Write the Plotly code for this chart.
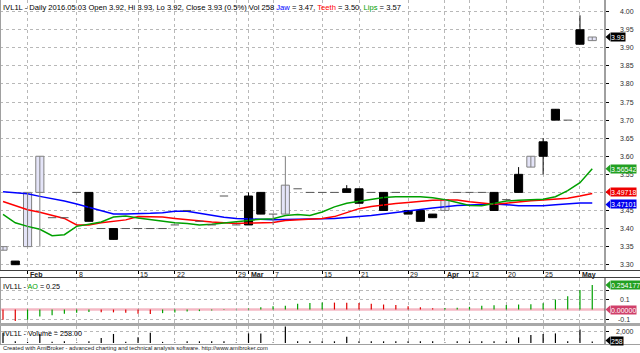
import plotly.graph_objects as go

W, H = 640, 353

# ---------------- data (bar index 0..48, one bar per trading day) ----------------
open_ = [3.34, 3.31, 3.35, 3.50, 3.43, 3.43, 3.50, 3.50, 3.40, 3.40, 3.40, 3.40, 3.40, 3.40,
         3.41, 3.45, 3.42, 3.41, 3.49, 3.41, 3.49, 3.50, 3.44, 3.44, 3.51, 3.50, 3.50, 3.50,
         3.51, 3.51, 3.50, 3.50, 3.50, 3.45, 3.45, 3.44, 3.45, 3.50, 3.50, 3.50, 3.50, 3.48,
         3.55, 3.57, 3.64, 3.73, 3.70, 3.95, 3.92]
high = [3.35, 3.31, 3.50, 3.60, 3.43, 3.43, 3.50, 3.50, 3.40, 3.40, 3.40, 3.40, 3.40, 3.40,
        3.41, 3.45, 3.42, 3.41, 3.49, 3.41, 3.50, 3.50, 3.44, 3.60, 3.51, 3.50, 3.50, 3.50,
        3.52, 3.51, 3.50, 3.50, 3.50, 3.45, 3.45, 3.44, 3.48, 3.50, 3.50, 3.50, 3.50, 3.48,
        3.57, 3.60, 3.65, 3.73, 3.70, 3.99, 3.93]
low = [3.34, 3.30, 3.35, 3.35, 3.43, 3.43, 3.50, 3.42, 3.40, 3.37, 3.40, 3.40, 3.40, 3.40,
       3.41, 3.45, 3.42, 3.41, 3.49, 3.41, 3.41, 3.44, 3.41, 3.44, 3.51, 3.50, 3.50, 3.50,
       3.50, 3.47, 3.50, 3.45, 3.50, 3.44, 3.42, 3.43, 3.45, 3.50, 3.50, 3.50, 3.45, 3.48,
       3.50, 3.57, 3.55, 3.70, 3.70, 3.91, 3.92]
close = [3.35, 3.30, 3.50, 3.60, 3.43, 3.43, 3.50, 3.42, 3.40, 3.37, 3.40, 3.40, 3.40, 3.40,
         3.41, 3.45, 3.42, 3.41, 3.49, 3.41, 3.41, 3.44, 3.44, 3.52, 3.51, 3.50, 3.50, 3.50,
         3.50, 3.47, 3.50, 3.45, 3.50, 3.44, 3.42, 3.43, 3.48, 3.50, 3.50, 3.50, 3.45, 3.48,
         3.50, 3.60, 3.60, 3.70, 3.70, 3.91, 3.93]

jaw = [3.502, 3.500, 3.496, 3.489, 3.483, 3.476, 3.468, 3.458, 3.448, 3.440, 3.440, 3.440,
       3.442, 3.444, 3.448, 3.448, 3.442, 3.436, 3.431, 3.428, 3.426, 3.425, 3.424, 3.425,
       3.425, 3.426, 3.427, 3.428, 3.430, 3.432, 3.436, 3.440, 3.445, 3.449, 3.453, 3.457,
       3.461, 3.464, 3.465, 3.467, 3.468, 3.466, 3.463, 3.463, 3.463, 3.466, 3.469, 3.471, 3.47101]
teeth = [3.475, 3.464, 3.452, 3.445, 3.437, 3.428, 3.410, 3.410, 3.416, 3.421, 3.424, 3.433,
         3.433, 3.432, 3.428, 3.424, 3.420, 3.418, 3.416, 3.414, 3.415, 3.416, 3.417, 3.422,
         3.424, 3.425, 3.428, 3.433, 3.445, 3.455, 3.461, 3.466, 3.469, 3.472, 3.476, 3.478,
         3.479, 3.479, 3.474, 3.470, 3.467, 3.470, 3.474, 3.477, 3.479, 3.481, 3.484, 3.490, 3.49718]
lips = [3.439, 3.416, 3.406, 3.398, 3.380, 3.383, 3.406, 3.411, 3.418, 3.432, 3.435, 3.429,
        3.424, 3.419, 3.416, 3.414, 3.410, 3.412, 3.416, 3.420, 3.424, 3.426, 3.427, 3.436,
        3.439, 3.436, 3.446, 3.460, 3.470, 3.476, 3.482, 3.486, 3.488, 3.488, 3.488, 3.485,
        3.480, 3.472, 3.464, 3.463, 3.470, 3.476, 3.478, 3.480, 3.481, 3.488, 3.505, 3.527, 3.56542]

ao = [-0.107, -0.121, -0.107, -0.073, -0.059, -0.045, -0.035, -0.025, -0.028, -0.030, -0.033,
      -0.045, -0.046, -0.038, -0.030, -0.021, -0.017, -0.010, -0.005, 0.003, 0.010, 0.024,
      0.035, 0.038, 0.059, 0.069, 0.073, 0.072, 0.071, 0.069, 0.059, 0.052, 0.048, 0.035,
      0.024, 0.012, 0.015, 0.018, 0.028, 0.038, 0.045, 0.048, 0.052, 0.055, 0.066, 0.104,
      0.138, 0.204, 0.254177]

volume = [1800, 300, 200, 1600, 200, 300, 100, 300, 900, 1600, 200, 1000, 1800, 200, 100,
          300, 300, 300, 300, 100, 1700, 1700, 100, 2900, 300, 300, 300, 300, 1100, 300, 300,
          300, 300, 300, 300, 300, 100, 300, 300, 300, 300, 300, 1000, 1400, 1600, 1700, 300,
          2400, 258]

tick_idx = [2, 6, 11, 14, 19, 20, 22, 26, 29, 33, 36, 38, 41, 44, 47]
tick_labels = ["Feb", "8", "15", "22", "29", "Mar", "7", "15", "21", "29", "Apr", "12", "20", "25", "May"]
month_labels = {"Feb", "Mar", "Apr", "May"}

price_ticks = [3.30, 3.35, 3.40, 3.45, 3.50, 3.55, 3.60, 3.65, 3.70, 3.75, 3.80, 3.85, 3.90, 3.95, 4.00]
ao_ticks = [-0.1, 0.1, 0.2]
vol_ticks = [2000]

# ---------------- geometry helpers ----------------
X0_PX, DX_PX, PLOT_R = 3.0, 12.276, 605
xr = [-X0_PX / DX_PX, (PLOT_R - X0_PX) / DX_PX]
px_per_unit = 361.4
def py_main(v):
    return 11.7 + (4.00 - v) * px_per_unit
def yp(py):
    return 1 - py / H
def xp(px):
    return px / W

MAIN_T, MAIN_B = 0, 270
AO_T, AO_B = 278, 323
VOL_T, VOL_B = 326, 344
ao_zero_py, ao_scale = 309.5, 96.0
vol_zero_py, vol_scale = 343.0, 11.3 / 2000

def py_ao(v):
    return ao_zero_py - v * ao_scale
def py_vol(v):
    return vol_zero_py - v * vol_scale

main_range = [4.00 - (MAIN_B - 11.7) / px_per_unit, 4.00 - (MAIN_T - 11.7) / px_per_unit]
ao_range = [(ao_zero_py - AO_B) / ao_scale, (ao_zero_py - AO_T) / ao_scale]
vol_range = [(vol_zero_py - VOL_B) / vol_scale, (vol_zero_py - VOL_T) / vol_scale]

n = len(close)
idx = list(range(n))

UP_FILL, UP_LINE, DN_FILL, DN_LINE = "#E4E4F8", "#808080", "#000000", "#000000"
FLAT_C = "#555555"

fig = go.Figure()

# alligator lines (drawn under candles)
for vals, col in [(jaw, "#0000FF"), (teeth, "#FF0000"), (lips, "#00A000")]:
    fig.add_trace(go.Scatter(x=idx, y=vals, mode="lines", line=dict(color=col, width=1.5),
                             hoverinfo="skip", showlegend=False))

# wicks
for up in (True, False):
    wx, wy = [], []
    for i in range(n):
        if (close[i] >= open_[i]) != up:
            continue
        if high[i] > low[i]:
            wx += [i, i, None]
            wy += [low[i], high[i], None]
    fig.add_trace(go.Scatter(x=wx, y=wy, mode="lines",
                             line=dict(color=UP_LINE if up else DN_LINE, width=1),
                             hoverinfo="skip", showlegend=False))

# bodies
bx, bb, bh, bf, bl = [], [], [], [], []
fx, fy = [], []
HW = 0.34
for i in range(n):
    if abs(close[i] - open_[i]) < 1e-9:
        fx += [i - HW, i + HW, None]
        fy += [close[i], close[i], None]
        continue
    up = close[i] > open_[i]
    bx.append(i)
    bb.append(min(open_[i], close[i]))
    bh.append(abs(close[i] - open_[i]))
    bf.append(UP_FILL if up else DN_FILL)
    bl.append(UP_LINE if up else DN_LINE)
fig.add_trace(go.Bar(x=bx, y=bh, base=bb, width=0.66,
                     marker=dict(color=bf, line=dict(color=bl, width=1)),
                     hoverinfo="skip", showlegend=False))
fig.add_trace(go.Scatter(x=fx, y=fy, mode="lines", line=dict(color=FLAT_C, width=1),
                         hoverinfo="skip", showlegend=False))

# AO histogram
ao_cols = ["#E00000"] + [("#00A000" if ao[i] > ao[i - 1] else "#E00000") for i in range(1, n)]
for i in range(n):
    fig.add_trace(go.Scatter(x=[i, i], y=[0, ao[i]], mode="lines",
                             line=dict(color=ao_cols[i], width=1.2),
                             xaxis="x2", yaxis="y2", hoverinfo="skip", showlegend=False))
# volume
vx, vy = [], []
for i in range(n):
    vx += [i, i, None]
    vy += [0, volume[i], None]
fig.add_trace(go.Scatter(x=vx, y=vy, mode="lines", line=dict(color="#000000", width=1.2),
                         xaxis="x3", yaxis="y3", hoverinfo="skip", showlegend=False))

GRID = "#B8B8B8"
xcommon = dict(range=xr, domain=[0, xp(PLOT_R)], tickvals=tick_idx, showticklabels=False,
               showgrid=True, gridcolor=GRID, griddash="dot", gridwidth=1, zeroline=False,
               showline=False, fixedrange=True)
fig.update_layout(
    width=W, height=H, margin=dict(l=0, r=0, t=0, b=0),
    paper_bgcolor="white", plot_bgcolor="white", barmode="overlay",
    xaxis=dict(**xcommon, anchor="y", ticks="outside", ticklen=3, tickcolor="#000000"),
    xaxis2=dict(**xcommon, anchor="y2", ticks=""),
    xaxis3=dict(**xcommon, anchor="y3", ticks=""),
    yaxis=dict(range=main_range, domain=[yp(MAIN_B), yp(MAIN_T)], side="right",
               tickvals=price_ticks, showticklabels=False, ticks="outside", ticklen=3,
               tickcolor="#000000", showgrid=True, gridcolor=GRID, griddash="dot",
               zeroline=False, anchor="x"),
    yaxis2=dict(range=ao_range, domain=[yp(AO_B), yp(AO_T)], side="right",
                tickvals=ao_ticks, showticklabels=False, ticks="outside", ticklen=3,
                tickcolor="#000000", showgrid=True, gridcolor=GRID, griddash="dot",
                zeroline=False, anchor="x2"),
    yaxis3=dict(range=vol_range, domain=[yp(VOL_B), yp(VOL_T)], side="right",
                tickvals=vol_ticks, showticklabels=False, ticks="outside", ticklen=3,
                tickcolor="#000000", showgrid=True, gridcolor=GRID, griddash="dot",
                zeroline=False, anchor="x3"),
    font=dict(family="Liberation Sans", size=8, color="#000000"),
)

shapes = []
# AO zero line
shapes.append(dict(type="line", xref="paper", yref="paper", x0=0, x1=xp(PLOT_R),
                   y0=yp(ao_zero_py), y1=yp(ao_zero_py), line=dict(color="#F4B8C4", width=2.5),
                   layer="below"))
# frames
for (t, b) in [(MAIN_T, MAIN_B), (AO_T, AO_B), (VOL_T, VOL_B)]:
    shapes.append(dict(type="line", xref="paper", yref="paper", x0=xp(PLOT_R), x1=xp(PLOT_R),
                       y0=yp(b), y1=yp(t), line=dict(color="#404040", width=1)))
    shapes.append(dict(type="line", xref="paper", yref="paper", x0=xp(0.5), x1=xp(0.5),
                       y0=yp(b), y1=yp(t), line=dict(color="#A0A0A0", width=1)))
for py, col, wd in [(MAIN_B + 0.5, "#404040", 1), (AO_T - 0.5, "#404040", 1),
                    (324.5, "#A8A8A8", 3), (VOL_B + 0.5, "#A0A0A0", 1)]:
    shapes.append(dict(type="line", xref="paper", yref="paper", x0=0, x1=1,
                       y0=yp(py), y1=yp(py), line=dict(color=col, width=wd)))

annotations = []
LBL = dict(size=7, color="#303030")

# value boxes (pixel centres) — axis labels hidden behind them are skipped
main_boxes = [(py_main(close[-1]), f"{close[-1]:.2f}", "#000000"),
              (py_main(lips[-1]), f"{lips[-1]:.5f}", "#22A022"),
              (py_main(teeth[-1]) - 1.5, f"{teeth[-1]:.5f}", "#EE0000"),
              (py_main(jaw[-1]) + 1.5, f"{jaw[-1]:.5f}", "#0000EE")]
box_centres = [b[0] for b in main_boxes]

# right axis labels
for v in price_ticks:
    pyv = py_main(v)
    if any(abs(pyv - c) < 3 for c in box_centres):
        continue
    annotations.append(dict(x=xp(636), y=yp(pyv), xref="paper", yref="paper",
                            text=f"{v:.2f}", showarrow=False, xanchor="right", yanchor="middle",
                            font=LBL))
for v in [0.1, -0.1]:
    annotations.append(dict(x=xp(632), y=yp(py_ao(v)), xref="paper", yref="paper", text=f"{v:g}",
                            showarrow=False, xanchor="right", yanchor="middle", font=LBL))
annotations.append(dict(x=xp(636), y=yp(py_vol(2000)), xref="paper", yref="paper", text="2,000",
                        showarrow=False, xanchor="right", yanchor="middle", font=LBL))

# x tick labels (left-aligned after tick)
for ti, tl in zip(tick_idx, tick_labels):
    txt = f"<b>{tl}</b>" if tl in month_labels else tl
    annotations.append(dict(x=ti, y=yp(274.5), xref="x", yref="paper", text=txt,
                            showarrow=False, xanchor="left", yanchor="middle", xshift=0,
                            font=dict(size=7, color="#202020")))

# value boxes with arrow
def value_box(py, text, bg):
    shapes.append(dict(type="path", xref="paper", yref="paper",
                       path=f"M {xp(605.5)},{yp(py)} L {xp(610)},{yp(py - 4)} L {xp(610)},{yp(py + 4)} Z",
                       fillcolor=bg, line=dict(width=0)))
    annotations.append(dict(x=xp(609.5), y=yp(py), xref="paper", yref="paper", text=text,
                            showarrow=False, xanchor="left", yanchor="middle", bgcolor=bg,
                            borderpad=0, height=8, valign="middle",
                            font=dict(size=7, color="#FFFFFF")))

for b in main_boxes:
    value_box(*b)
value_box(py_ao(ao[-1]), f"{ao[-1]:.6f}", "#22A022")
value_box(ao_zero_py, "0.00000", "#D0406A")
value_box(py_vol(volume[-1]) - 1, f"{volume[-1]}", "#000000")

pct = (close[-1] - close[-2]) / close[-2] * 100
title = (f"IVL1L - Daily 2016.05.03 Open {open_[-1]:.2f}, Hi {high[-1]:.2f}, Lo {low[-1]:.2f}, "
         f"Close {close[-1]:.2f} ({pct:.1f}%) Vol {volume[-1]} "
         f"<span style='color:#0000FF'>Jaw</span> = {jaw[-1]:.2f}, "
         f"<span style='color:#FF0000'>Teeth</span> = {teeth[-1]:.2f}, "
         f"<span style='color:#00A000'>Lips</span> = {lips[-1]:.2f}")
annotations.append(dict(x=xp(1), y=yp(0.5), xref="paper", yref="paper", text=title, showarrow=False,
                        xanchor="left", yanchor="top", font=dict(size=7.6, color="#000000")))
annotations.append(dict(x=xp(1), y=yp(279.5), xref="paper", yref="paper",
                        text=f"IVL1L - <span style='color:#00A000'>AO</span> = {ao[-1]:.2f}",
                        showarrow=False, xanchor="left", yanchor="top", font=dict(size=7.2)))
annotations.append(dict(x=xp(1), y=yp(326.5), xref="paper", yref="paper",
                        text=f"IVL1L - Volume = {volume[-1]:.2f}",
                        showarrow=False, xanchor="left", yanchor="top", font=dict(size=7.2)))
annotations.append(dict(x=xp(1), y=yp(353), xref="paper", yref="paper",
                        text="Created with AmiBroker - advanced charting and technical analysis software. http://www.amibroker.com",
                        showarrow=False, xanchor="left", yanchor="bottom", font=dict(size=5.8, color="#202020")))

fig.update_layout(shapes=shapes, annotations=annotations)
fig.write_html("out.html")
